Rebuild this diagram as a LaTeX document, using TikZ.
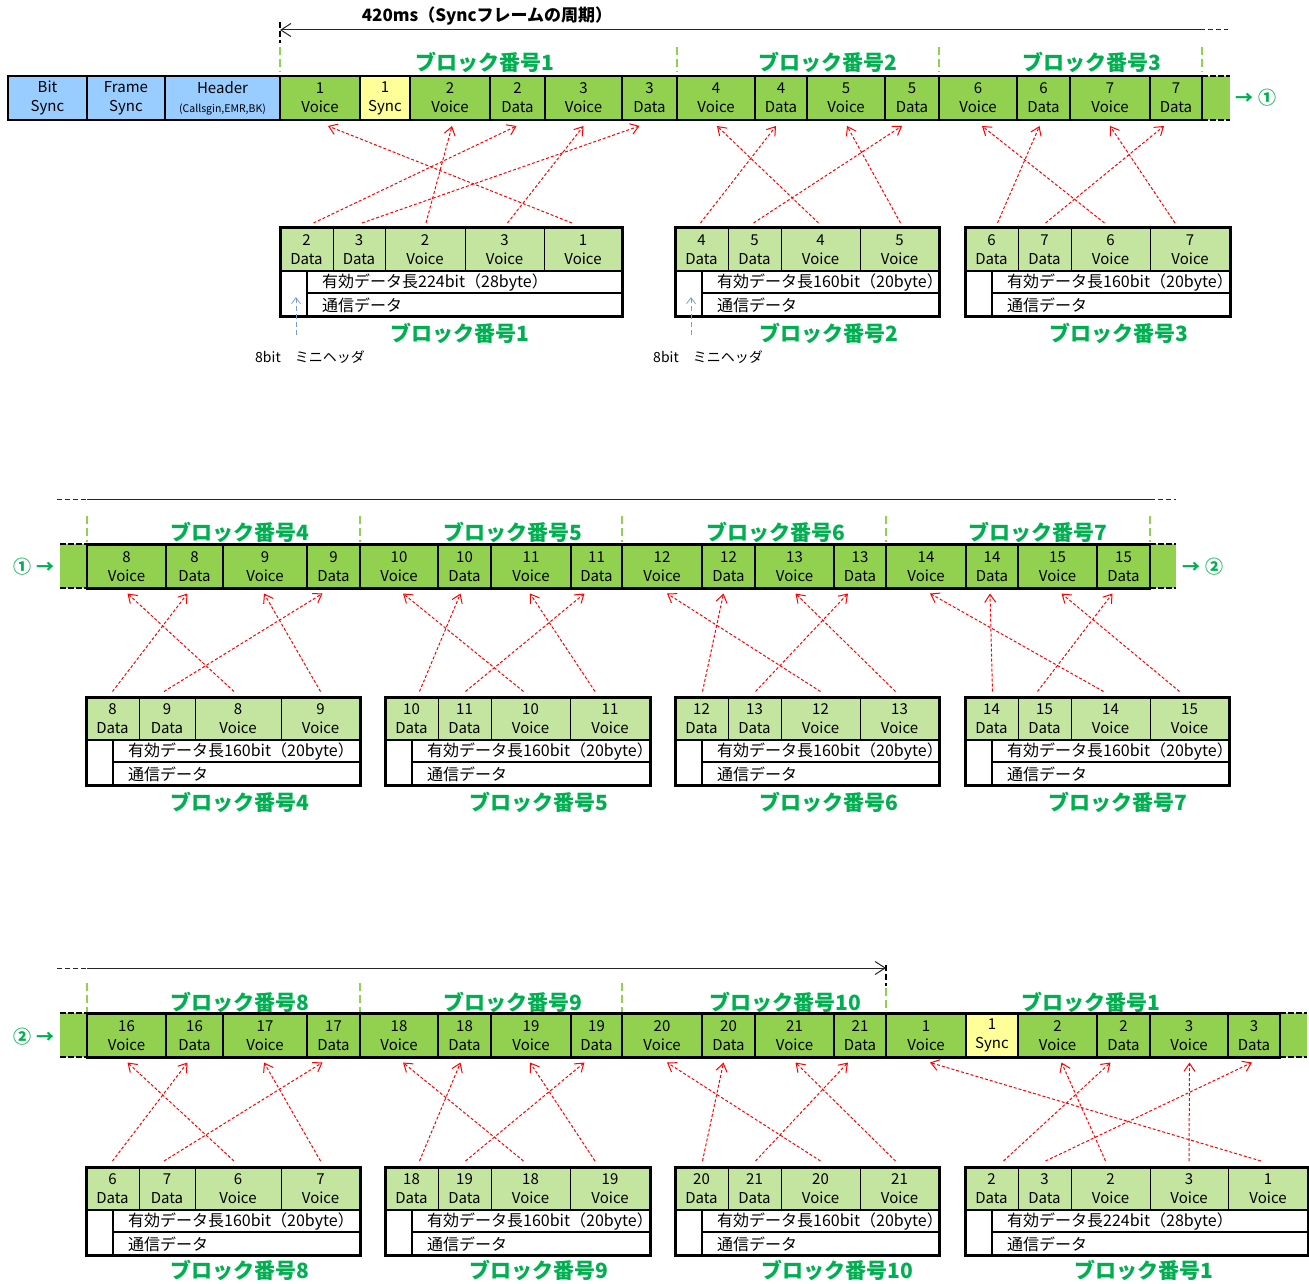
\documentclass[tikz,border=0pt]{standalone}
\usepackage{fontspec}
\setmainfont{Noto Sans CJK JP}
\usetikzlibrary{arrows.meta}
\definecolor{frgreen}{HTML}{92D050}
\definecolor{sbgreen}{HTML}{C4E59F}
\definecolor{hdblue}{HTML}{99CCFF}
\definecolor{synyel}{HTML}{FFFF99}
\definecolor{lbgreen}{HTML}{00B050}
\definecolor{mhblue}{HTML}{7B9BD0}
\tikzset{
  fcell/.style={draw,line width=2.5pt,inner sep=0pt,outer sep=0pt,minimum height=44pt,align=center,font=\fontsize{15}{19}\selectfont},
  scell/.style={draw,line width=1pt,fill=sbgreen,inner sep=0pt,outer sep=0pt,minimum height=43pt,align=center,font=\fontsize{15}{19}\selectfont},
  blklbl/.style={text=lbgreen,inner sep=0pt,font=\fontsize{21}{21}\selectfont\bfseries},
  jtxt/.style={anchor=west,inner sep=0pt,font=\fontsize{16}{16}\selectfont},
  redarr/.style={red,line width=1pt,dash pattern=on 3pt off 2pt,-{Straight Barb[length=8pt,width=11pt]}},
  sepline/.style={frgreen,line width=2.5pt,dash pattern=on 8pt off 4pt},
  tline/.style={line width=1pt,black!85},
  contmark/.style={text=lbgreen,font=\fontsize{18}{18}\selectfont\bfseries}
}
\begin{document}
\begin{tikzpicture}[x=1pt,y=-1pt]
\useasboundingbox (0,0) rectangle (1309,1284);
% continuation boxes
\foreach \l/\r/\t in {1202/1230/76,60/87/544,1150/1176/544,60/87/1013,1280/1307/1013}{
  \fill[frgreen] (\l,\t) rectangle (\r,\t+44);
  \draw[line width=1.5pt,dash pattern=on 6pt off 2pt] (\l,\t) -- (\r,\t) (\l,\t+44) -- (\r,\t+44);
}
% frame row 1
\node[fcell,fill=hdblue,minimum width=79pt] (bsync) at (47.5,98) {Bit\\Sync};
\node[fcell,fill=hdblue,minimum width=78pt] (fsync) at (126,98) {Frame\\Sync};
\node[fcell,fill=hdblue,minimum width=115pt] (hdr) at (222.5,98) {Header\\{\fontsize{10.5}{12}\selectfont(Callsgin,EMR,BK)}};
\foreach \n/\l/\r/\k/\t/\c in {a1v/280/360/1/Voice/frgreen,a1s/360/410/1/Sync/synyel,a2v/410/490/2/Voice/frgreen,a2d/490/545/2/Data/frgreen,
  a3v/545/622/3/Voice/frgreen,a3d/622/677/3/Data/frgreen,a4v/677/755/4/Voice/frgreen,a4d/755/807/4/Data/frgreen,
  a5v/807/885/5/Voice/frgreen,a5d/885/939/5/Data/frgreen,a6v/939/1017/6/Voice/frgreen,a6d/1017/1070/6/Data/frgreen,
  a7v/1070/1150/7/Voice/frgreen,a7d/1150/1202/7/Data/frgreen}
  \node[fcell,fill=\c,minimum width={(\r-\l)*1pt}] (\n) at ({(\l+\r)/2},98) {\k\\\t};
% frame row 2
\foreach \n/\l/\r/\k/\t in {b8v/87/166/8/Voice,b8d/166/223/8/Data,b9v/223/307/9/Voice,b9d/307/360/9/Data,
  b10v/360/438/10/Voice,b10d/438/491/10/Data,b11v/491/571/11/Voice,b11d/571/622/11/Data,
  b12v/622/702/12/Voice,b12d/702/755/12/Data,b13v/755/834/13/Voice,b13d/834/886/13/Data,
  b14v/886/966/14/Voice,b14d/966/1018/14/Data,b15v/1018/1097/15/Voice,b15d/1097/1150/15/Data}
  \node[fcell,fill=frgreen,minimum width={(\r-\l)*1pt}] (\n) at ({(\l+\r)/2},566.5) {\k\\\t};
% frame row 3
\foreach \n/\l/\r/\k/\t/\c in {c16v/87/166/16/Voice/frgreen,c16d/166/223/16/Data/frgreen,c17v/223/307/17/Voice/frgreen,c17d/307/360/17/Data/frgreen,
  c18v/360/438/18/Voice/frgreen,c18d/438/491/18/Data/frgreen,c19v/491/571/19/Voice/frgreen,c19d/571/622/19/Data/frgreen,
  c20v/622/702/20/Voice/frgreen,c20d/702/755/20/Data/frgreen,c21v/755/834/21/Voice/frgreen,c21d/834/886/21/Data/frgreen,
  c1v/886/966/1/Voice/frgreen,c1s/966/1018/1/Sync/synyel,c2v/1018/1097/2/Voice/frgreen,c2d/1097/1150/2/Data/frgreen,
  c3v/1150/1228/3/Voice/frgreen,c3d/1228/1280/3/Data/frgreen}
  \node[fcell,fill=\c,minimum width={(\r-\l)*1pt}] (\n) at ({(\l+\r)/2},1035.5) {\k\\\t};
% sub blocks
\foreach \n/\l/\r/\k/\t in {p2d/280/333/2/Data,p3d/333/385/3/Data,p2v/385/465/2/Voice,p3v/465/544/3/Voice,p1v/544/622/1/Voice,
  p4d/675/728/4/Data,p5d/728/781/5/Data,p4v/781/860/4/Voice,p5v/860/939/5/Voice,
  p6d/965/1018/6/Data,p7d/1018/1071/7/Data,p6v/1071/1150/6/Voice,p7v/1150/1230/7/Voice}
  \node[scell,minimum width={(\r-\l)*1pt}] (\n) at ({(\l+\r)/2},249.5) {\k\\\t};
\foreach \n/\l/\r/\k/\t in {q8d/86/139/8/Data,q9d/139/195/9/Data,q8v/195/281/8/Voice,q9v/281/360/9/Voice,
  q10d/385/438/10/Data,q11d/438/491/11/Data,q10v/491/570/10/Voice,q11v/570/650/11/Voice,
  q12d/675/728/12/Data,q13d/728/781/13/Data,q12v/781/860/12/Voice,q13v/860/939/13/Voice,
  q14d/965/1018/14/Data,q15d/1018/1071/15/Data,q14v/1071/1150/14/Voice,q15v/1150/1229/15/Voice}
  \node[scell,minimum width={(\r-\l)*1pt}] (\n) at ({(\l+\r)/2},719) {\k\\\t};
\foreach \n/\l/\r/\k/\t in {r16d/86/139/6/Data,r17d/139/195/7/Data,r16v/195/281/6/Voice,r17v/281/360/7/Voice,
  r18d/385/438/18/Data,r19d/438/491/19/Data,r18v/491/570/18/Voice,r19v/570/650/19/Voice,
  r20d/675/728/20/Data,r21d/728/781/21/Data,r20v/781/860/20/Voice,r21v/860/939/21/Voice,
  r2d/965/1018/2/Data,r3d/1018/1071/3/Data,r2v/1071/1150/2/Voice,r3v/1150/1228/3/Voice,r1v/1228/1308/1/Voice}
  \node[scell,minimum width={(\r-\l)*1pt}] (\n) at ({(\l+\r)/2},1188.5) {\k\\\t};
\foreach \l/\r/\t/\d [count=\i] in {280/622/228/224bit（28byte）,675/939/228/160bit（20byte）,965/1230/228/160bit（20byte）,
  86/360/697/160bit（20byte）,385/650/697/160bit（20byte）,675/939/697/160bit（20byte）,965/1229/697/160bit（20byte）,
  86/360/1167/160bit（20byte）,385/650/1167/160bit（20byte）,675/939/1167/160bit（20byte）,965/1308/1167/224bit（28byte）}{
  \draw[line width=2.5pt] (\l,\t+43) -- (\r,\t+43) (\l+27,\t+43) -- (\l+27,\t+88);
  \draw[line width=1.5pt] (\l+27,\t+65) -- (\r,\t+65);
  \draw[line width=3pt] (\l,\t) rectangle (\r,\t+88);
  \node[jtxt] (dl\i) at (\l+42,\t+55) {有効データ長\d};
  \node[jtxt] (cm\i) at (\l+42,\t+77) {通信データ};
}
% block labels
\foreach \k/\x/\y [count=\i] in {1/485/62,2/828/62,3/1092/62,4/240/532,5/513/532,6/776/532,7/1038/532,
  8/240/1002,9/513/1002,10/785/1002,1/1091/1002}
  \node[blklbl] (bt\i) at (\x,\y) {ブロック番号\k};
\foreach \k/\x/\y [count=\i] in {1/460/333,2/829/333,3/1119/333,4/240/802,5/539/802,6/829/802,7/1118/802,
  8/240/1270,9/539/1270,10/837/1270,1/1144/1270}
  \node[blklbl] (bb\i) at (\x,\y) {ブロック番号\k};
% block separators
\foreach \x/\a/\b in {280/47/72,677/47/72,939/47/72,1202/47/72,87/516/542,360/516/542,622/516/542,886/516/542,1150/516/542,
  87/983/1012,360/983/1012,622/983/1012,886/988/1012}
  \draw[sepline] (\x,\a) -- (\x,\b);
\draw[line width=2.5pt,dash pattern=on 6pt off 3pt] (280,22) -- (280,43) (886,965) -- (886,986);
% period line
\node[font=\fontsize{17}{17}\selectfont\bfseries] (per) at (487,16) {420ms（Syncフレームの周期）};
\coordinate (t1a) at (280,30); \coordinate (t1b) at (1200,30); \coordinate (t1c) at (1228,30);
\coordinate (t2a) at (57,499); \coordinate (t2b) at (87,499); \coordinate (t2c) at (1150,499); \coordinate (t2d) at (1176,499);
\coordinate (t3a) at (57,968); \coordinate (t3b) at (87,968); \coordinate (t3c) at (886,968);
\draw[tline,{Straight Barb[length=10pt,width=13pt]}-] (t1a) -- (t1b);
\draw[tline,-{Straight Barb[length=10pt,width=13pt]}] (t3b) -- (t3c);
\draw[tline] (t2b) -- (t2c);
\draw[tline,dash pattern=on 5pt off 3pt] (t1b) -- (t1c) (t2a) -- (t2b) (t2c) -- (t2d) (t3a) -- (t3b);
% continuation marks
\node[contmark] (cn1) at (1256,98) {→ ①};
\node[contmark] (cn2) at (34,567) {① →};
\node[contmark] (cn3) at (1203,567) {→ ②};
\node[contmark] (cn4) at (34,1037) {② →};
% mini header
\node[font=\fontsize{14}{14}\selectfont] (mh1) at (310,357) {8bit　ミニヘッダ};
\node[font=\fontsize{14}{14}\selectfont] (mh2) at (708,357) {8bit　ミニヘッダ};
\draw[mhblue,line width=0.8pt,dash pattern=on 5pt off 3pt,-{Straight Barb[length=6pt,width=9pt]}] ([xshift=-14pt,yshift=12pt]mh1.north) -- ++(0,-38);
\draw[mhblue,line width=0.8pt,dash pattern=on 5pt off 3pt,-{Straight Barb[length=6pt,width=9pt]}] ([xshift=-17pt,yshift=12pt]mh2.north) -- ++(0,-38);
% interleave arrows
\foreach \s/\u/\v in {1v/-11/8,2d/7/-1,3d/3/-10,2v/1/2,3v/3/0,4d/-1/-5,5d/-1/-10,4v/-2/1,5v/1/1,6d/6/-4,7d/1/-12,6v/-6/4,7v/-15/0}
  \draw[redarr] ([xshift=\u,yshift=5pt]p\s.north) -- ([xshift=\v,yshift=-6pt]a\s.south);
\foreach \s/\u/\v in {8d/0/-7,9d/-3/-11,8v/-4/1,9v/0/-1,10d/8/-4,11d/1/-12,10v/-7/4,11v/-15/-1,
  12d/1/-5,13d/1/-12,12v/0/5,13v/-4/1,14d/1/-2,15d/-7/-11,14v/-7/4,15v/-10/4}
  \draw[redarr] ([xshift=\u,yshift=6pt]q\s.north) -- ([xshift=\v,yshift=-5pt]b\s.south);
\foreach \s/\u/\v in {16d/0/-7,17d/-3/-11,16v/-4/1,17v/0/-1,18d/8/-4,19d/1/-12,18v/-7/4,19v/-15/-1,
  20d/1/-5,21d/1/-12,20v/0/5,21v/-4/1,2d/12/-13,3d/1/-2,2v/-5/4,3v/0/0.5,1v/-7/4}
  \draw[redarr] ([xshift=\u,yshift=6pt]r\s.north) -- ([xshift=\v,yshift=-5pt]c\s.south);
\end{tikzpicture}
\end{document}
